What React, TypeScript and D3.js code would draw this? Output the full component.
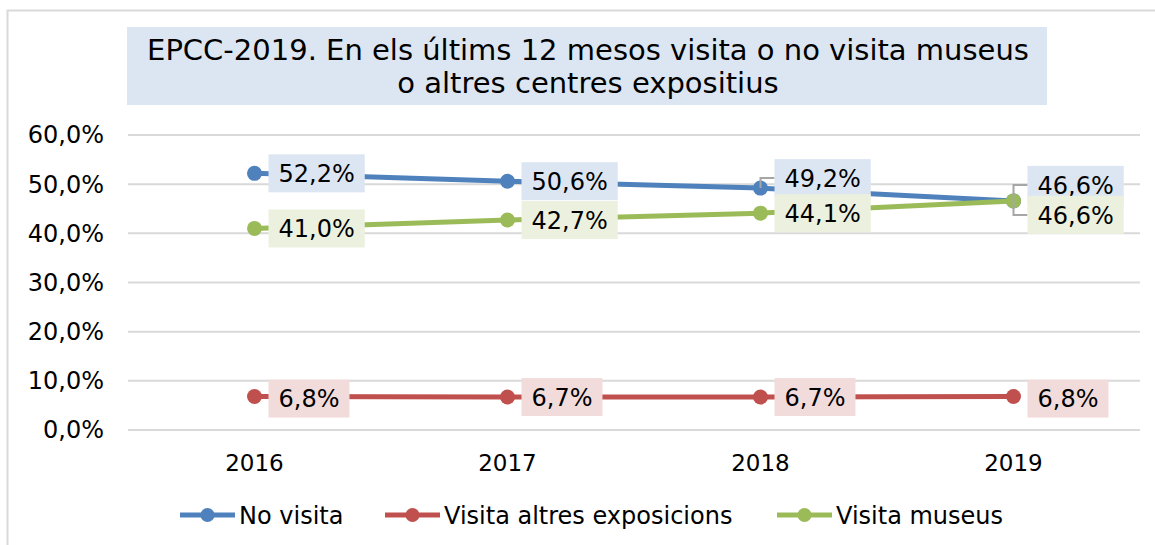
import React, { useEffect, useRef } from "react";
import * as d3 from "d3";

const years = ["2016", "2017", "2018", "2019"];
const noVisita = [52.2, 50.6, 49.2, 46.6];
const altresExpo = [6.8, 6.7, 6.7, 6.8];
const visitaMuseus = [41.0, 42.7, 44.1, 46.6];
const yTicks = [0, 10, 20, 30, 40, 50, 60];
const titleLines = [
  "EPCC-2019. En els últims 12 mesos visita o no visita museus",
  "o altres centres expositius",
];

const series = [
  { name: "No visita", values: noVisita, color: "#4f81bd", box: "#dce6f2", shift: [0, 0, -10, -16] },
  { name: "Visita altres exposicions", values: altresExpo, color: "#c0504d", box: "#f2dcdb", shift: [2, 0, 0, 2] },
  { name: "Visita museus", values: visitaMuseus, color: "#9bbb59", box: "#ebf1de", shift: [0, 0, 0, 14] },
];

const fmt = (v: number) => v.toFixed(1).replace(".", ",") + "%";
const FONT = "'DejaVu Sans', Verdana, sans-serif";

export default function App() {
  const svgRef = useRef<SVGSVGElement>(null);

  useEffect(() => {
    const svg = d3.select(svgRef.current);
    svg.selectAll("*").remove();
    svg.style("font-family", FONT);

    const W = 1155, H = 545;
    const left = 128, right = 1140, top = 135, bottom = 430;

    // outer frame
    svg.append("rect").attr("x", 7.5).attr("y", 10.5).attr("width", W).attr("height", H)
      .attr("fill", "white").attr("stroke", "#d9d9d9").attr("stroke-width", 2);

    // title
    svg.append("rect").attr("x", 127).attr("y", 27).attr("width", 920).attr("height", 78).attr("fill", "#dce6f2");
    titleLines.forEach((t, i) => {
      svg.append("text").attr("x", 588).attr("y", 60 + i * 33).attr("text-anchor", "middle")
        .attr("font-size", 29).attr("fill", "#000").text(t);
    });

    const x = d3.scaleBand().domain(years).range([left, right]);
    const y = d3.scaleLinear().domain([0, 60]).range([bottom, top]);
    const cx = (d: string) => (x(d) as number) + x.bandwidth() / 2;

    // gridlines + y labels
    const g = svg.append("g");
    yTicks.forEach((t) => {
      g.append("line").attr("x1", left).attr("x2", right).attr("y1", y(t)).attr("y2", y(t))
        .attr("stroke", "#d9d9d9").attr("stroke-width", 2);
      g.append("text").attr("x", 104).attr("y", y(t)).attr("dy", "0.35em").attr("text-anchor", "end")
        .attr("font-size", 24).attr("fill", "#000").text(fmt(t));
    });

    // x labels
    years.forEach((yr) => {
      svg.append("text").attr("x", cx(yr)).attr("y", 471).attr("text-anchor", "middle")
        .attr("font-size", 23).attr("fill", "#000").text(yr);
    });

    const line = d3.line<number>().x((_, i) => cx(years[i])).y((v) => y(v));

    series.forEach((s) => {
      svg.append("path").attr("d", line(s.values)).attr("fill", "none")
        .attr("stroke", s.color).attr("stroke-width", 5).attr("stroke-linecap", "round");
      s.values.forEach((v, i) => {
        svg.append("circle").attr("cx", cx(years[i])).attr("cy", y(v)).attr("r", 7.5).attr("fill", s.color);
      });
    });

    // data labels
    series.forEach((s) => {
      s.values.forEach((v, i) => {
        const px = cx(years[i]);
        const py = y(v);
        const cy = py + s.shift[i];
        const bx = px + 14;
        if (Math.abs(s.shift[i]) > 5) {
          svg.append("path").attr("d", `M${px},${py}V${cy}H${bx}`).attr("fill", "none")
            .attr("stroke", "#a6a6a6").attr("stroke-width", 2);
        }
        const lg = svg.append("g");
        const rect = lg.append("rect");
        const txt = lg.append("text").attr("x", bx + 10).attr("y", cy).attr("dy", "0.36em")
          .attr("font-size", 24).attr("fill", "#000").text(fmt(v));
        const tw = (txt.node() as SVGTextElement).getComputedTextLength();
        rect.attr("x", bx).attr("y", cy - 19).attr("width", tw + 20).attr("height", 38).attr("fill", s.box);
      });
    });

    // legend
    const legendX = [180, 385, 777];
    series.forEach((s, i) => {
      const lx = legendX[i];
      const ly = 515;
      svg.append("line").attr("x1", lx).attr("x2", lx + 55).attr("y1", ly).attr("y2", ly)
        .attr("stroke", s.color).attr("stroke-width", 5);
      svg.append("circle").attr("cx", lx + 27.5).attr("cy", ly).attr("r", 7).attr("fill", s.color);
      svg.append("text").attr("x", lx + 59).attr("y", ly).attr("dy", "0.36em")
        .attr("font-size", 24).attr("fill", "#000").text(s.name);
    });
  }, []);

  return (
    <svg
      ref={svgRef}
      width={1155}
      height={545}
      style={{ position: "absolute", left: 0, top: 0, background: "white" }}
    />
  );
}
